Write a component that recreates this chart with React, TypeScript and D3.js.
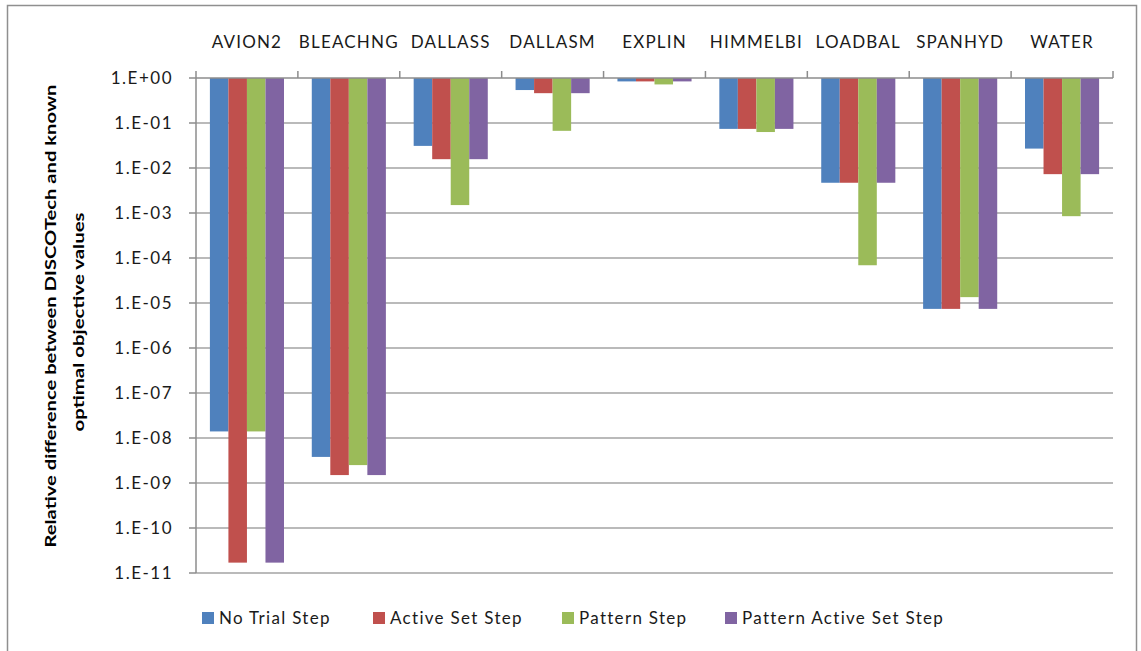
import React from "react";
import * as d3 from "d3";

const categories = ["AVION2", "BLEACHNG", "DALLASS", "DALLASM", "EXPLIN", "HIMMELBI", "LOADBAL", "SPANHYD", "WATER"];
const seriesNames = ["No Trial Step", "Active Set Step", "Pattern Step", "Pattern Active Set Step"];
const seriesColors = ["#4F81BD", "#C0504D", "#9BBB59", "#8064A2"];
const noTrialStep = [1.4e-8, 3.8e-9, 0.031, 0.54, 0.84, 0.074, 0.0047, 7.4e-6, 0.027];
const activeSetStep = [1.7e-11, 1.5e-9, 0.0157, 0.46, 0.84, 0.074, 0.0047, 7.4e-6, 0.0073];
const patternStep = [1.4e-8, 2.5e-9, 0.0015, 0.067, 0.72, 0.063, 6.9e-5, 1.35e-5, 8.5e-4];
const patternActiveSetStep = [1.7e-11, 1.5e-9, 0.0157, 0.46, 0.84, 0.074, 0.0047, 7.4e-6, 0.0073];
const tickValues = [1, 1e-1, 1e-2, 1e-3, 1e-4, 1e-5, 1e-6, 1e-7, 1e-8, 1e-9, 1e-10, 1e-11];
const tickLabels = ["1.E+00", "1.E-01", "1.E-02", "1.E-03", "1.E-04", "1.E-05", "1.E-06", "1.E-07", "1.E-08", "1.E-09", "1.E-10", "1.E-11"];
const yTitle1 = "Relative difference between DISCOTech and known";
const yTitle2 = "optimal objective values";

const allSeries = [noTrialStep, activeSetStep, patternStep, patternActiveSetStep];

export default function App() {
  const left = 196, right = 1113, top = 78, bottom = 573;
  const x0 = d3.scaleBand<string>().domain(categories).range([left, right]).paddingInner(0).paddingOuter(0);
  const x1 = d3.scaleBand<string>().domain(seriesNames).range([0, x0.bandwidth()]).paddingInner(0).paddingOuter(0.75);
  const y = d3.scaleLog().domain([1, 1e-11]).range([top, bottom]);
  const font = "Lato, 'Open Sans', sans-serif";
  const axisColor = "#8C8C8C";
  const gridColor = "#A3A3A3";
  const legendX = [202, 373, 562, 725];

  return (
    <svg width={1141} height={651} style={{ position: "absolute", left: 0, top: 0, background: "#fff" }}>
      <rect x={7.5} y={5.5} width={1129} height={700} fill="#fff" stroke="#8F8F8F" strokeWidth={1.5} />
      {/* gridlines */}
      {tickValues.slice(1).map((t, i) => (
        <line key={"g" + i} x1={left} x2={right} y1={y(t)} y2={y(t)} stroke={gridColor} strokeWidth={1.5} />
      ))}
      {/* bars */}
      {categories.map((c, ci) => (
        <g key={c} transform={`translate(${x0(c)},0)`}>
          {allSeries.map((s, si) => (
            <rect
              key={si}
              x={x1(seriesNames[si])}
              y={y(1)}
              width={x1.bandwidth()}
              height={y(s[ci]) - y(1)}
              fill={seriesColors[si]}
            />
          ))}
        </g>
      ))}
      {/* axes */}
      <line x1={left} x2={right} y1={top} y2={top} stroke={axisColor} strokeWidth={1.5} />
      <line x1={left} x2={left} y1={top} y2={bottom} stroke={axisColor} strokeWidth={1.5} />
      {tickValues.map((t, i) => (
        <g key={"t" + i}>
          <line x1={left - 7} x2={left} y1={y(t)} y2={y(t)} stroke={axisColor} strokeWidth={1.5} />
          <text x={173} y={y(t)} dy="0.36em" textAnchor="end" fontFamily={font} fontSize={17} letterSpacing={1.5} fill="#1a1a1a">
            {tickLabels[i]}
          </text>
        </g>
      ))}
      {[...categories.map((c) => x0(c) as number), right].map((xv, i) => (
        <line key={"ct" + i} x1={xv} x2={xv} y1={top - 7} y2={top} stroke={axisColor} strokeWidth={1.5} />
      ))}
      {categories.map((c) => (
        <text key={"cl" + c} x={(x0(c) as number) + x0.bandwidth() / 2} y={48} textAnchor="middle" fontFamily={font} fontSize={17} letterSpacing={1.2} fill="#1a1a1a">
          {c}
        </text>
      ))}
      {/* y title */}
      <text transform="translate(56,316) rotate(-90)" textAnchor="middle" fontFamily={font} fontWeight="bold" fontSize={16} fill="#000" textLength={463} lengthAdjust="spacingAndGlyphs">
        {yTitle1}
      </text>
      <text transform="translate(84,322) rotate(-90)" textAnchor="middle" fontFamily={font} fontWeight="bold" fontSize={16} fill="#000" textLength={219} lengthAdjust="spacingAndGlyphs">
        {yTitle2}
      </text>
      {/* legend */}
      {seriesNames.map((s, i) => (
        <g key={"l" + i}>
          <rect x={legendX[i]} y={612} width={12} height={12} fill={seriesColors[i]} />
          <text x={legendX[i] + 17} y={618} dy="0.36em" fontFamily={font} fontSize={17} letterSpacing={1.3} fill="#1a1a1a">
            {s}
          </text>
        </g>
      ))}
    </svg>
  );
}
